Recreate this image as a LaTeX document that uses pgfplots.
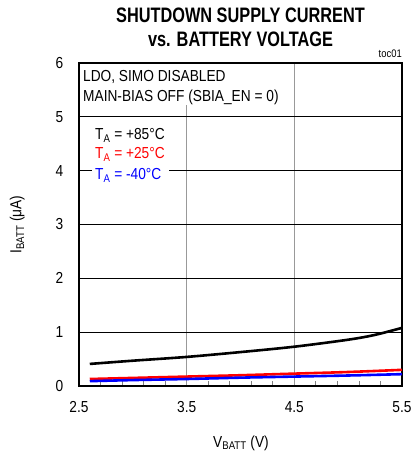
\documentclass[border=0pt]{standalone}
\usepackage{fontspec}
\setmainfont{Liberation Sans}[FakeStretch=0.86]
\newfontfamily\titlefont{Liberation Sans}[FakeStretch=0.78]
\usepackage{pgfplots}
\pgfplotsset{compat=1.18}
\definecolor{myred}{RGB}{255,0,0}
\definecolor{myblue}{RGB}{0,0,255}
\begin{document}
\begin{tikzpicture}
\path[use as bounding box] (-79bp,-66bp) rectangle (333bp,386bp);
\begin{axis}[
  at={(0,0)}, anchor=south west,
  width=323bp, height=323bp, scale only axis,
  xmin=2.5, xmax=5.5, ymin=0, ymax=6,
  xtick={2.5,3.5,4.5,5.5}, xticklabels={2.5,3.5,4.5,5.5},
  ytick={0,1,2,3,4,5,6}, yticklabels={0,1,2,3,4,5,6},
  minor x tick num=4,
  xmajorgrids, ymajorgrids,
  x grid style={draw=gray!80, line width=1bp},
  y grid style={draw=black, line width=0.8bp},
  tick align=inside,
  xtick pos=bottom, ytick pos=left,
  major tick length=0pt, minor tick length=5bp,
  minor tick style={draw=gray, line width=0.8bp},
  axis line style={line width=2.2bp},
  ticklabel style={font=\fontsize{16}{19}\selectfont},
  xticklabel style={anchor=north, inner sep=0pt, yshift=-15bp},
  yticklabel style={anchor=east, inner sep=0pt, xshift=-15.5bp},
  /pgf/number format/assume math mode=true,
  clip=true,
]
\addplot[black, line width=2.6bp, smooth] coordinates {
  (2.6,0.41) (3.0,0.47) (3.5,0.54) (4.0,0.63) (4.5,0.73) (5.0,0.86) (5.25,0.95) (5.5,1.08)};
\addplot[myred, line width=2.6bp, smooth] coordinates {
  (2.6,0.13) (3.0,0.15) (3.5,0.175) (4.0,0.20) (4.5,0.23) (5.0,0.26) (5.5,0.30)};
\addplot[myblue, line width=2.6bp, smooth] coordinates {
  (2.6,0.09) (3.0,0.11) (3.5,0.13) (4.0,0.155) (4.5,0.175) (5.0,0.195) (5.5,0.22)};
\end{axis}
% masks
\fill[white] (1.2bp,281bp) rectangle (215bp,321.8bp);
\fill[white] (13bp,201bp) rectangle (90bp,262bp);
\begin{scope}[every node/.style={font=\fontsize{16}{20}\selectfont, inner sep=0pt}]
\node[anchor=base west] at (4bp,304bp) {LDO, SIMO DISABLED};
\node[anchor=base west] at (4bp,284bp) {MAIN-BIAS OFF (SBIA\_EN = 0)};
\node[anchor=base west] at (16bp,246bp) {T\textsubscript{A} = +85°C};
\node[anchor=base west, text=myred] at (16bp,227bp) {T\textsubscript{A} = +25°C};
\node[anchor=base west, text=myblue] at (16bp,206bp) {T\textsubscript{A} = -40°C};
\node[anchor=base] at (162bp,-61bp) {V\textsubscript{BATT} (V)};
\node[anchor=base, rotate=90] at (-57.5bp,161.5bp) {I\textsubscript{BATT} (μA)};
\node[anchor=base east, font=\fontsize{11}{13}\selectfont] at (323bp,328bp) {toc01};
\node[anchor=base, font=\titlefont\bfseries\fontsize{21}{24}\selectfont] at (161.5bp,363bp) {SHUTDOWN SUPPLY CURRENT};
\node[anchor=base, font=\titlefont\bfseries\fontsize{21}{24}\selectfont] at (161.5bp,339bp) {vs. BATTERY VOLTAGE};
\end{scope}
\end{tikzpicture}
\end{document}
